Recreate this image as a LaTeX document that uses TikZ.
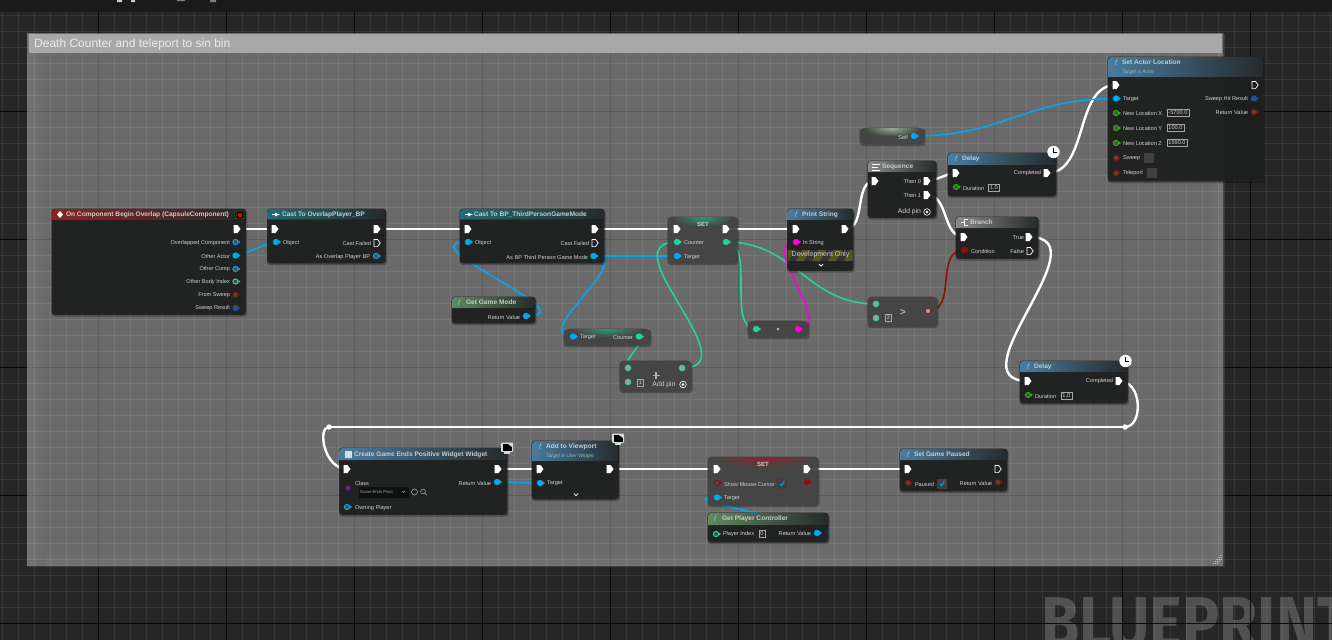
\documentclass[tikz,border=0pt]{standalone}
\usepackage{fontspec}
\setmainfont{Liberation Sans}
\newfontfamily\wmfont{Fira Sans}
\usetikzlibrary{calc,shapes.geometric}
\pgfdeclarelayer{bgl}\pgfdeclarelayer{wires}\pgfsetlayers{bgl,wires,main}
\definecolor{cDark}{HTML}{262626}
\definecolor{cTop}{HTML}{1A1A1A}
\definecolor{cBox}{HTML}{6A6A6A}
\definecolor{cBoxEdge}{HTML}{747474}
\definecolor{cHead}{HTML}{A8A8A8}
\definecolor{cBody}{HTML}{1E201F}
\definecolor{cComp}{HTML}{454545}
\definecolor{cTxt}{HTML}{D0D0D0}
\definecolor{cTtl}{HTML}{C8CCCC}
\definecolor{cBlue}{HTML}{00A8F0}
\definecolor{cTeal}{HTML}{1FD4A0}
\definecolor{cGreen}{HTML}{22B800}
\definecolor{cRed}{HTML}{960A0A}
\definecolor{cNavy}{HTML}{0A50C0}
\definecolor{cMag}{HTML}{FF00D8}
\definecolor{cPur}{HTML}{4A0A8C}
\definecolor{tRed}{HTML}{8E2222}
\definecolor{tTeal}{HTML}{1F6E74}
\definecolor{tBlue}{HTML}{4A7CA0}
\definecolor{tGreen}{HTML}{5F8A5A}
\definecolor{tGray}{HTML}{8A8A8A}
\definecolor{tEnd}{HTML}{252A2B}
\definecolor{cStripe}{HTML}{55551C}
\definecolor{cSub}{HTML}{9DBDB5}
\tikzset{
 nodebody/.style={fill=cBody,fill opacity=.93,draw=black!85,line width=.7pt,rounded corners=3pt,inner sep=0,outer sep=0},
 compbody/.style={fill=cComp,fill opacity=.92,draw=black!75,line width=.7pt,rounded corners=4pt,inner sep=0,outer sep=0},
 pillbody/.style={fill=cComp,fill opacity=.92,draw=black!75,line width=.7pt,rounded corners=7pt,inner sep=0,outer sep=0},
 pinpt/.style={inner sep=0,outer sep=0,minimum size=0pt},
 lbl/.style={inner sep=0,outer sep=0,text=cTxt,font=\fontsize{5.6}{6}\selectfont},
 ttlb/.style={inner sep=0,outer sep=0,anchor=west,text=cTtl,font=\fontsize{6.6}{7}\selectfont\bfseries},
 sublb/.style={inner sep=0,outer sep=0,anchor=west,text=cSub,font=\fontsize{5}{6}\selectfont\itshape},
 valbox/.style={draw=gray!70,line width=.6pt,inner xsep=1.6pt,inner ysep=1.5pt,text=cTxt,font=\fontsize{5.6}{6}\selectfont},
 ex/.style={white,line width=2.4pt},
 dat/.style={line width=1.6pt},
 knot/.style={circle,fill=white,inner sep=0,minimum size=5.5pt},
}
\newcounter{lb}
\newcommand\bp[6]{\pgfmathsetmacro\bw{#4-#2}\pgfmathsetmacro\bh{#5-#3}\pgfmathsetmacro\bx{(#2+#4)/2}\pgfmathsetmacro\by{(#3+#5)/2}%
 \fill[black,opacity=.28,rounded corners=3pt] (#2-.5,#3+.5) rectangle (#4+1.5,#5+2);%
 \node[#6,minimum width=\bw pt,minimum height=\bh pt] (#1) at (\bx,\by) {};}
\newcommand\ttl[5]{\fill[left color=#5,right color=tEnd] (#1,#4) [rounded corners=3pt] -- (#1,#2) -- (#3,#2) [sharp corners] -- (#3,#4) -- cycle;}
% cx ytop rx ry colour: soft glow hanging from a node's top edge
\newcommand\glowE[5]{\begin{scope}\clip (#1-#3,#2+.4) rectangle (#1+#3,#2+#4);\shade[inner color=#5,outer color=cComp] (#1,#2+.4) ellipse (#3 and #4);\end{scope}}
\newcommand\lR[3]{\stepcounter{lb}\node[lbl,anchor=west] (l\thelb) at (#1,#2) {#3};}
\newcommand\lL[3]{\stepcounter{lb}\node[lbl,anchor=east] (l\thelb) at (#1,#2) {#3};}
\newcommand\T[3]{\stepcounter{lb}\node[ttlb] (l\thelb) at (#1,#2) {#3};}
\newcommand\Fn[2]{\stepcounter{lb}\node[inner sep=0,text=cBlue!60!white,font=\fontsize{8}{8}\selectfont\itshape] (l\thelb) at (#1,#2) {f};}
\newcommand\Val[3]{\stepcounter{lb}\node[valbox,anchor=west] (l\thelb) at (#1,#2) {#3};}
\newcommand\pX[3]{\node[pinpt] (#1) at (#2,#3) {};\fill[white,shift={(#2,#3)}] (-3.5,-4) -- (.5,-4) -- (3.5,0) -- (.5,4) -- (-3.5,4) -- cycle;}
\newcommand\pH[3]{\node[pinpt] (#1) at (#2,#3) {};\draw[white,line width=.7pt,shift={(#2,#3)}] (-3,-3.6) -- (.5,-3.6) -- (3.2,0) -- (.5,3.6) -- (-3,3.6) -- cycle;}
\newcommand\pF[4]{\node[pinpt] (#1) at (#2,#3) {};\fill[#4,shift={(#2,#3)}] (0,0) circle (3.2) (2.6,-1.8) -- (5,0) -- (2.6,1.8) -- cycle;}
\newcommand\pO[4]{\node[pinpt] (#1) at (#2,#3) {};\draw[#4,fill=black!70,line width=1pt,shift={(#2,#3)}] (0,0) circle (2.6);\fill[#4,shift={(#2,#3)}] (2.8,-1.6) -- (5,0) -- (2.8,1.6) -- cycle;}
\newcommand\pR[4]{\node[pinpt] (#1) at (#2,#3) {};\draw[#4,fill=gray!75,line width=.8pt] (#2,#3) circle (2.9);}
\newcommand\chev[2]{\draw[white,line width=.8pt] (#1-2.2,#2-1) -- (#1,#2+1) -- (#1+2.2,#2-1);}
\newcommand\clockicon[2]{\fill[white] (#1,#2) circle (6.2);\draw[black,line width=.6pt] (#1,#2-4) -- (#1,#2) -- (#1+3,#2);}
\newcommand\moni[2]{\fill[gray!30,rounded corners=1pt] (#1-6,#2-5.5) rectangle (#1+6,#2+4);\fill[black] (#1-4.2,#2-4.2) rectangle (#1+5,#2+2.6);\fill[white!85!black] (#1+1,#2-4) -- (#1+5,#2-4) -- (#1+5,#2-1) -- cycle;\fill[gray!30] (#1-3,#2+4) rectangle (#1+3,#2+5.5);}
\newcommand\cbox[2]{\fill[black!75] (#1-5,#2-5) rectangle (#1+5,#2+5);}
\newcommand\cboxt[2]{\cbox{#1}{#2}\draw[cBlue,line width=.9pt] (#1-2,#2+.5) -- (#1-.6,#2+2) -- (#1+2.4,#2-2.2);}
\newcommand\wire[4]{\begin{pgfonlayer}{wires}\draw[#1] (#2.center) .. controls ($(#2.center)+(#4,0)$) and ($(#3.center)-(#4,0)$) .. (#3.center);\end{pgfonlayer}}
\begin{document}
\begin{tikzpicture}[x=1pt,y=-1pt]
\useasboundingbox (0,0) rectangle (1332,640);
\begin{pgfonlayer}{bgl}
 \fill[cDark] (0,0) rectangle (1332,640);
 \begin{scope}
 \clip (0,0) rectangle (1332,640);
 \node[anchor=base west,inner sep=0,text=white,text opacity=.2,font=\fontsize{72}{72}\selectfont\wmfont\bfseries,xscale=.86] (wm) at (1041,647) {BLUEPRINT};
 \end{scope}
 \foreach \x in {2,18,...,1330} \draw[white,opacity=.07,line width=1pt] (\x,12) -- (\x,640);
 \foreach \y in {15.7,31.7,...,639} \draw[white,opacity=.07,line width=1pt] (0,\y) -- (1332,\y);
 \foreach \x in {98,226,...,1330} \draw[black,opacity=.85,line width=.8pt] (\x,12) -- (\x,640);
 \foreach \y in {111.7,239.7,367.7,495.7,623.7} \draw[black,opacity=.85,line width=.8pt] (0,\y) -- (1332,\y);
 \fill[cTop] (0,0) rectangle (1332,12);
 \fill[white!80!black] (117,0) rectangle (122,2) (131,0) rectangle (135,2);
 \fill[gray] (177,0) rectangle (185,1) (210,0) rectangle (216,2);
 \fill[black!70,opacity=.6] (28,34) rectangle (1225,567);
 \fill[cBox] (27,33) rectangle (1223,565);
 \fill[left color=cBoxEdge,right color=cBox] (27,33) rectangle (46,565);
 \fill[left color=cBox,right color=cBoxEdge] (1207,33) rectangle (1223,565);
 \fill[top color=cBox,bottom color=cBoxEdge] (46,552) rectangle (1207,565);
 \begin{scope}
 \clip (27,33) rectangle (1223,565);
 \foreach \x in {2,18,...,1330} \draw[white,opacity=.08,line width=1pt] (\x,33) -- (\x,565);
 \foreach \y in {15.7,31.7,...,639} \draw[white,opacity=.08,line width=1pt] (27,\y) -- (1223,\y);
 \foreach \x in {98,226,...,1330} \draw[black,opacity=.2,line width=.9pt] (\x,33) -- (\x,565);
 \foreach \y in {111.7,239.7,367.7,495.7,623.7} \draw[black,opacity=.2,line width=.9pt] (27,\y) -- (1223,\y);
 \end{scope}
 \fill[cHead] (29,34) rectangle (1222,53);
 \node[inner sep=0,anchor=west,text=white!92!black,font=\fontsize{12}{13}\selectfont] (ctitle) at (34,44) {Death Counter and teleport to sin bin};
 \foreach \i in {0,1,2} \draw[white,dotted,line width=.7pt] (1213+\i*2,563.5) -- (1221.5,555+\i*2);
\end{pgfonlayer}

\bp{ev}{52}{209}{245.5}{314.5}{nodebody}
\ttl{52}{209}{245.5}{220}{tRed}
\fill[white] (60,211) -- (63,214.5) -- (60,218) -- (57,214.5) -- cycle;
\T{66}{214.5}{On Component Begin Overlap (CapsuleComponent)}
\draw[black,fill=red!90!black,line width=.6pt] (237.5,212) rectangle (242.5,217);
\pX{evX}{237}{229}
\pO{evA}{235.5}{242}{cBlue}\lL{230}{243}{Overlapped Component}
\pF{evB}{235.5}{255.5}{cBlue}\lL{230}{256}{Other Actor}
\pO{evC}{235.5}{269}{cBlue}\lL{230}{269}{Other Comp}
\pO{evD}{235.5}{281.5}{cTeal}\lL{230}{282}{Other Body Index}
\pO{evE}{235.5}{295}{cRed}\lL{230}{295}{From Sweep}
\pO{evF}{235.5}{308}{cNavy}\lL{230}{308}{Sweep Result}

\bp{ca}{267.5}{209}{385.5}{263}{nodebody}
\ttl{267.5}{209}{385.5}{219.5}{tTeal}
\draw[white,line width=.8pt,-latex] (272,214.5) -- (280,214.5);
\T{282}{214.5}{Cast To OverlapPlayer\_BP}
\pX{caI}{275}{229}\pX{caO}{377}{229}
\pF{caB}{276}{242}{cBlue}\lR{283}{243}{Object}
\pH{caF}{377}{243}\lL{371}{243}{Cast Failed}
\pO{caR}{376}{256}{cBlue}\lL{370}{257}{As Overlap Player BP}

\bp{cb}{460}{209}{604}{263}{nodebody}
\ttl{460}{209}{604}{219.5}{tTeal}
\draw[white,line width=.8pt,-latex] (465,214.5) -- (473,214.5);
\T{474}{214.5}{Cast To BP\_ThirdPersonGameMode}
\pX{cbI}{468}{229}\pX{cbO}{595}{229}
\pF{cbB}{468}{242}{cBlue}\lR{475}{243}{Object}
\pH{cbF}{595}{243}\lL{589}{243}{Cast Failed}
\pF{cbR}{593.5}{256}{cBlue}\lL{588}{257}{As BP Third Person Game Mode}

\bp{st}{668}{217}{737}{263}{compbody}
\glowE{702.5}{217}{30}{9}{cTeal!55!cComp}
\stepcounter{lb}\node[lbl,font=\fontsize{6}{7}\selectfont\bfseries] (l\thelb) at (703,224) {SET};
\pX{stI}{677}{229}\pX{stO}{726}{229}
\pF{stC}{677}{242}{cTeal}\lR{684}{243}{Counter}
\pF{stD}{726}{242}{cTeal}
\pF{stT}{677}{256}{cBlue}\lR{684}{257}{Target}

\bp{pr}{787.5}{209}{853}{270.5}{nodebody}
\ttl{787.5}{209}{853}{220}{tBlue}
\Fn{796}{214.5}\T{802}{214.5}{Print String}
\pX{prI}{796}{229}\pX{prO}{845}{229}
\pF{prS}{796}{242}{cMag}\lR{803}{243}{In String}
\begin{scope}
 \clip (788,250) rectangle (852.5,261);
 \fill[black!80] (788,250) rectangle (853,261);
 \foreach \x in {780,796,...,860} \fill[cStripe] (\x,261) -- (\x+8,261) -- (\x+14,250) -- (\x+6,250) -- cycle;
\end{scope}
\stepcounter{lb}\node[lbl,font=\fontsize{7}{8}\selectfont] (l\thelb) at (820.5,255) {Development Only};
\chev{821}{265}

\bp{sq}{868}{161}{936}{217.5}{nodebody}
\ttl{868}{161}{936}{172}{tGray}
\draw[white,line width=.9pt] (872,164) -- (880,164) (872,167) -- (878,167) (872,170) -- (880,170);
\T{882}{166.5}{Sequence}
\pX{sqI}{875}{181}\pX{sqA}{927}{181}\pX{sqB}{927}{195}
\lL{921}{181.5}{Then 0}\lL{921}{195.5}{Then 1}
\stepcounter{lb}\node[lbl,anchor=east,font=\fontsize{6.8}{8}\selectfont] (l\thelb) at (921,212) {Add pin};
\draw[white,line width=.6pt] (927,212) circle (3.3);\fill[white] (927,212) circle (1.3);

\bp{da}{948}{153}{1056}{196}{nodebody}
\ttl{948}{153}{1056}{165}{tBlue}
\Fn{956}{159}\T{962}{159}{Delay}
\clockicon{1053.5}{152}
\pX{daI}{956}{173}\pX{daO}{1047}{173}
\lL{1041}{173.5}{Completed}
\pO{daD}{956}{187}{cGreen}\lR{963}{188}{Duration}\Val{988}{187.5}{1.0}

\bp{sl}{1108}{57}{1263}{181}{nodebody}
\ttl{1108}{57}{1263}{77}{tBlue}
\Fn{1116}{63}\T{1122}{62.5}{Set Actor Location}
\stepcounter{lb}\node[sublb] (l\thelb) at (1122,72) {Target is Actor};
\pX{slI}{1116}{85}\pH{slO}{1255}{85}
\pF{slT}{1116}{98.5}{cBlue}\lR{1123}{99}{Target}
\pO{slH}{1254}{98.5}{cNavy}\lL{1248}{99}{Sweep Hit Result}
\pO{slX}{1116}{113}{cGreen}\lR{1123}{113.5}{New Location X}\Val{1166.5}{113}{-5700.0}
\pO{slR}{1254}{112}{cRed}\lL{1248}{112.5}{Return Value}
\pO{slY}{1116}{128}{cGreen}\lR{1123}{128.5}{New Location Y}\Val{1166.5}{128}{100.0}
\pO{slZ}{1116}{143}{cGreen}\lR{1123}{143.5}{New Location Z}\Val{1166.5}{143}{1590.0}
\pO{slW}{1116}{158}{cRed}\lR{1123}{158.5}{Sweep}\cbox{1148.5}{158}
\pO{slP}{1116}{173}{cRed}\lR{1123}{173.5}{Teleport}\cbox{1152}{173}

\bp{se}{860}{128}{924}{144}{pillbody}
\glowE{892}{128}{28}{8}{tGreen!70!white}
\lL{908}{137}{Self}
\pF{seP}{914}{136}{cBlue}

\bp{br}{956}{217}{1038}{258.5}{nodebody}
\ttl{956}{217}{1038}{228}{tGray}
\draw[white,line width=1pt] (968,219.5) -- (964,219.5) -- (964,225.5) -- (968,225.5) (961,222.5) -- (964,222.5);
\T{970}{222.5}{Branch}
\pX{brI}{964}{237}\pX{brT}{1029}{237}
\lL{1024}{237.5}{True}
\pF{brC}{964}{250}{cRed}\lR{971}{251}{Condition}
\pH{brF}{1030}{251}\lL{1024}{251}{False}

\bp{db}{1020}{361}{1127.5}{403}{nodebody}
\ttl{1020}{361}{1127.5}{372}{tBlue}
\Fn{1028}{367}\T{1034}{366.5}{Delay}
\clockicon{1125.5}{361}
\pX{dbI}{1028}{381}\pX{dbO}{1119}{381}
\lL{1113}{381.5}{Completed}
\pO{dbD}{1028}{395}{cGreen}\lR{1035}{396}{Duration}\Val{1060.5}{395.5}{1.0}

\bp{gt}{868}{297}{937}{326}{compbody}
\pR{gtA}{876}{304}{cTeal}\pR{gtB}{876}{318}{cTeal}\pR{gtO}{928}{311}{cRed}
\Val{885}{318}{2}
\stepcounter{lb}\node[lbl,font=\fontsize{10}{10}\selectfont\bfseries,text=gray!60] (l\thelb) at (903,312) {>};

\bp{dt}{748}{321}{808}{337}{pillbody}
\pF{dtI}{756}{329}{cTeal}\pF{dtO}{798}{329}{cMag}
\fill[gray!50] (778,329) circle (1.4);

\bp{gm}{452}{297}{535}{323}{nodebody}
\ttl{452}{297}{535}{308}{tGreen}
\Fn{459}{303}\T{466}{302.5}{Get Game Mode}
\pF{gmR}{526}{316}{cBlue}\lL{520}{317}{Return Value}

\bp{cn}{564}{329}{650}{345}{pillbody}
\glowE{607}{329}{36}{8}{cTeal!55!cComp}
\pF{cnT}{573}{336.5}{cBlue}\lR{580}{337.5}{Target}
\pF{cnC}{639}{336.5}{cTeal}\lL{633}{337.5}{Counter}

\bp{ad}{620}{361}{691}{391}{compbody}
\pR{adA}{628}{368}{cTeal}\pR{adB}{628}{382}{cTeal}\pR{adO}{682}{368}{cTeal}
\Val{637}{382.5}{1}
\draw[gray!60,line width=1.1pt] (656,372) -- (656,379) (652.5,375.5) -- (659.5,375.5);
\stepcounter{lb}\node[lbl,font=\fontsize{6.8}{8}\selectfont] (l\thelb) at (664,384.5) {Add pin};
\draw[white,line width=.6pt] (683,384.5) circle (3.3);\fill[white] (683,384.5) circle (1.3);

\bp{cw}{339.5}{448}{507}{514.5}{nodebody}
\ttl{339.5}{448}{507}{460}{tBlue}
\fill[white!75!tBlue] (345,451) rectangle (351.5,458);
\T{354}{454.5}{Create Game Ends Positive Widget Widget}
\moni{507}{448}
\pX{cwI}{347}{469}\pX{cwO}{498}{469}
\pO{cwC}{348}{488}{cPur}\lR{355}{483.5}{Class}
\fill[black!50!cBody] (359,486.5) rectangle (409,497.5);
\stepcounter{lb}\node[lbl,anchor=west,text=gray!70,font=\fontsize{4.2}{5}\selectfont] (l\thelb) at (360,491.5) {Game Ends Posit};
\draw[gray!70,line width=.5pt] (402,491) -- (403.5,492.5) -- (405,491);
\draw[gray!60,line width=.5pt] (414.5,492) circle (3);\draw[gray!60,line width=.5pt] (423,491.5) circle (2.4) (424.8,493.2) -- (426.5,495);
\pO{cwP}{347}{507}{cBlue}\lR{355}{508}{Owning Player}
\pF{cwR}{497}{482}{cBlue}\lL{491}{483}{Return Value}

\bp{av}{532}{441}{618.5}{499}{nodebody}
\ttl{532}{441}{618.5}{461}{tBlue}
\Fn{540}{447}\T{546}{446.5}{Add to Viewport}
\stepcounter{lb}\node[sublb] (l\thelb) at (546,456) {Target is User Widget};
\moni{618}{439}
\pX{avI}{540}{469}\pX{avO}{610}{469}
\pF{avT}{540}{483}{cBlue}\lR{547}{483.5}{Target}
\chev{576}{494.5}

\bp{sm}{708}{457}{818}{505}{compbody}
\glowE{763}{457}{48}{10}{tRed}
\stepcounter{lb}\node[lbl,font=\fontsize{6}{7}\selectfont\bfseries] (l\thelb) at (763,464) {SET};
\pX{smI}{717}{469}\pX{smO}{807}{469}
\pO{smM}{717}{483}{cRed}\lR{724}{484}{Show Mouse Cursor}\cboxt{782}{483.5}
\pF{smR}{807}{482}{cRed}
\pF{smT}{717}{497.5}{cBlue}\lR{724}{498.5}{Target}

\bp{gp}{900}{449}{1007}{491}{nodebody}
\ttl{900}{449}{1007}{460}{tBlue}
\Fn{908}{455}\T{914}{454.5}{Set Game Paused}
\pX{gpI}{908}{469}\pH{gpO}{998}{469}
\pO{gpP}{908}{483}{cRed}\lR{915}{484}{Paused}\cboxt{942}{483.5}
\pO{gpR}{998}{482}{cRed}\lL{992}{483}{Return Value}

\bp{pc}{708}{513}{828}{542}{nodebody}
\ttl{708}{513}{828}{525}{tGreen}
\Fn{715}{519}\T{722}{518.5}{Get Player Controller}
\pO{pcI}{716}{534}{cTeal}\lR{723}{534.5}{Player Index}\Val{758.5}{534}{0}
\pF{pcR}{817}{533}{cBlue}\lL{811}{533.5}{Return Value}

\node[knot] (k1) at (1125,427) {};
\node[knot] (k2) at (329,427) {};

\wire{ex}{evX}{caI}{12}
\wire{ex}{caO}{cbI}{30}
\wire{ex}{cbO}{stI}{25}
\wire{ex}{stO}{prI}{20}
\wire{ex}{prO}{sqI}{22}
\wire{ex}{sqA}{daI}{8}
\wire{ex}{sqB}{brI}{22}
\wire{ex}{daO}{slI}{42}
\wire{ex}{brT}{dbI}{76}
\wire{ex}{cwO}{avI}{10}
\wire{ex}{avO}{smI}{25}
\wire{ex}{smO}{gpI}{25}
\begin{pgfonlayer}{wires}
 \draw[ex] (dbO.center) .. controls (1143,381) and (1143,427) .. (k1.center);
 \draw[ex] (k1.center) -- (k2.center);
 \draw[ex] (k2.center) .. controls (317,427) and (324,469) .. (cwI.center);
\end{pgfonlayer}

\wire{dat,cBlue}{evB}{caB}{8}
\wire{dat,cBlue}{gmR}{cbB}{66}
\wire{dat,cBlue}{cbR}{stT}{25}
\wire{dat,cBlue}{cbR}{cnT}{46}
\wire{dat,cTeal}{cnC}{adA}{12}
\wire{dat,cTeal}{adO}{stC}{70}
\wire{dat,cTeal}{stD}{dtI}{30}
\wire{dat,cTeal}{stD}{gtA}{70}
\wire{dat,cRed}{gtO}{brC}{30}
\wire{dat,cMag}{dtO}{prS}{40}
\wire{dat,cBlue}{seP}{slT}{90}
\wire{dat,cBlue}{cwR}{avT}{8}
\wire{dat,cBlue}{pcR}{smT}{65}
\end{tikzpicture}
\end{document}
